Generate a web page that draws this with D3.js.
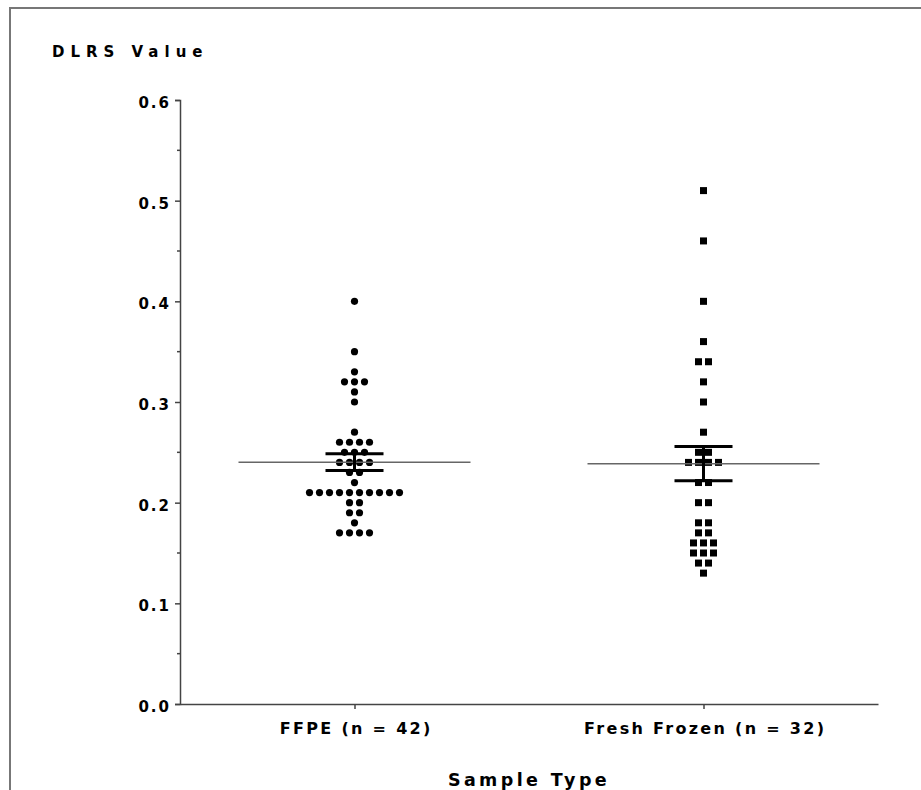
<!DOCTYPE html>
<html>
<head>
<meta charset="utf-8">
<script src="https://cdn.jsdelivr.net/npm/d3@7"></script>
<style>
  body { margin: 0; background: #fff; }
  text { font-family: "DejaVu Sans", Verdana, sans-serif; font-weight: bold; fill: #000; }
</style>
</head>
<body>
<div id="chart"></div>
<script>
// data
const categories = ["FFPE (n = 42)", "Fresh Frozen (n = 32)"];
const ffpeValues = [
  0.40, 0.35, 0.33, 0.32, 0.32, 0.32, 0.31, 0.30, 0.27,
  0.26, 0.26, 0.26, 0.26, 0.25, 0.25, 0.25, 0.24, 0.24, 0.24, 0.24,
  0.23, 0.23, 0.22,
  0.21, 0.21, 0.21, 0.21, 0.21, 0.21, 0.21, 0.21, 0.21, 0.21,
  0.20, 0.20, 0.19, 0.19, 0.18, 0.17, 0.17, 0.17, 0.17
];
const frozenValues = [
  0.51, 0.46, 0.40, 0.36, 0.34, 0.34, 0.32, 0.30, 0.27,
  0.25, 0.25, 0.24, 0.24, 0.24, 0.24, 0.22, 0.22, 0.20, 0.20,
  0.18, 0.18, 0.17, 0.17, 0.16, 0.16, 0.16, 0.15, 0.15, 0.15,
  0.14, 0.14, 0.13
];
const yTicks = [0.0, 0.1, 0.2, 0.3, 0.4, 0.5, 0.6];
const yMinorTicks = [0.05, 0.15, 0.25, 0.35, 0.45, 0.55];

const width = 921;
const height = 790;

const svg = d3.select("#chart")
  .append("svg")
  .attr("width", width)
  .attr("height", height);

// outer frame (top and left only visible)
svg.append("path")
  .attr("d", `M10,${height} V8 H${width}`)
  .attr("fill", "none")
  .attr("stroke", "#777")
  .attr("stroke-width", 2);

const x = d3.scalePoint()
  .domain(categories)
  .range([180, 878])
  .padding(0.5);

const y = d3.scaleLinear()
  .domain([0, 0.6])
  .range([704, 100]);

// Y axis
const yAxis = svg.append("g")
  .attr("transform", "translate(180,0)")
  .call(d3.axisLeft(y).tickValues(yTicks).tickSize(5).tickFormat(d3.format(".1f")));
yAxis.select(".domain").attr("stroke", "#444").attr("stroke-width", 1.5);
yAxis.selectAll(".tick line").attr("stroke", "#444").attr("stroke-width", 1.5);
yAxis.selectAll(".tick text")
  .attr("dy", "0.49em")
  .attr("x", -9)
  .style("font-size", "15px")
  .style("letter-spacing", "2px");

// minor ticks
svg.append("g")
  .selectAll("line")
  .data(yMinorTicks)
  .join("line")
  .attr("x1", 177).attr("x2", 180)
  .attr("y1", d => y(d)).attr("y2", d => y(d))
  .attr("stroke", "#444")
  .attr("stroke-width", 1.5);

// X axis
const xAxis = svg.append("g")
  .attr("transform", "translate(0,704)")
  .call(d3.axisBottom(x).tickSize(5).tickSizeOuter(0).tickPadding(14));
xAxis.select(".domain").attr("stroke", "#444").attr("stroke-width", 1.5);
xAxis.selectAll(".tick line").attr("stroke", "#444").attr("stroke-width", 1.5);
xAxis.selectAll(".tick text")
  .style("font-size", "16px")
  .style("letter-spacing", "2.3px")
  .attr("dx", "1.2px");

// axis titles
svg.append("text")
  .attr("x", 52)
  .attr("y", 57)
  .style("font-size", "15px")
  .style("letter-spacing", "6px")
  .text("DLRS Value");

svg.append("text")
  .attr("x", 529)
  .attr("y", 786)
  .attr("text-anchor", "middle")
  .style("font-size", "17.5px")
  .style("letter-spacing", "3.4px")
  .text("Sample Type");

// column scatter: spread equal values side by side
const spacing = 10;
function layout(values) {
  const counts = d3.rollup(values, v => v.length, d => d);
  const seen = new Map();
  return values.map(v => {
    const n = counts.get(v);
    const i = seen.get(v) || 0;
    seen.set(v, i + 1);
    return { value: v, offset: (i - (n - 1) / 2) * spacing };
  });
}

const groups = [
  { name: categories[0], values: ffpeValues, shape: "circle" },
  { name: categories[1], values: frozenValues, shape: "square" }
];

groups.forEach(g => {
  const cx = x(g.name);
  const pts = layout(g.values);
  const mean = d3.mean(g.values);
  const sem = d3.deviation(g.values) / Math.sqrt(g.values.length);

  if (g.shape === "circle") {
    svg.append("g").selectAll("circle")
      .data(pts)
      .join("circle")
      .attr("cx", d => cx + d.offset)
      .attr("cy", d => y(d.value))
      .attr("r", 3.6)
      .attr("fill", "#000");
  } else {
    svg.append("g").selectAll("rect")
      .data(pts)
      .join("rect")
      .attr("x", d => cx + d.offset - 3.5)
      .attr("y", d => y(d.value) - 3.5)
      .attr("width", 7)
      .attr("height", 7)
      .attr("fill", "#000");
  }

  // mean line
  svg.append("line")
    .attr("x1", cx - 116).attr("x2", cx + 116)
    .attr("y1", y(mean)).attr("y2", y(mean))
    .attr("stroke", "#666")
    .attr("stroke-width", 1.5);

  // SEM bars
  svg.append("line")
    .attr("x1", cx).attr("x2", cx)
    .attr("y1", y(mean + sem)).attr("y2", y(mean - sem))
    .attr("stroke", "#000")
    .attr("stroke-width", 3);
  [mean + sem, mean - sem].forEach(v => {
    svg.append("line")
      .attr("x1", cx - 29).attr("x2", cx + 29)
      .attr("y1", y(v)).attr("y2", y(v))
      .attr("stroke", "#000")
      .attr("stroke-width", 3);
  });
});
</script>
</body>
</html>
